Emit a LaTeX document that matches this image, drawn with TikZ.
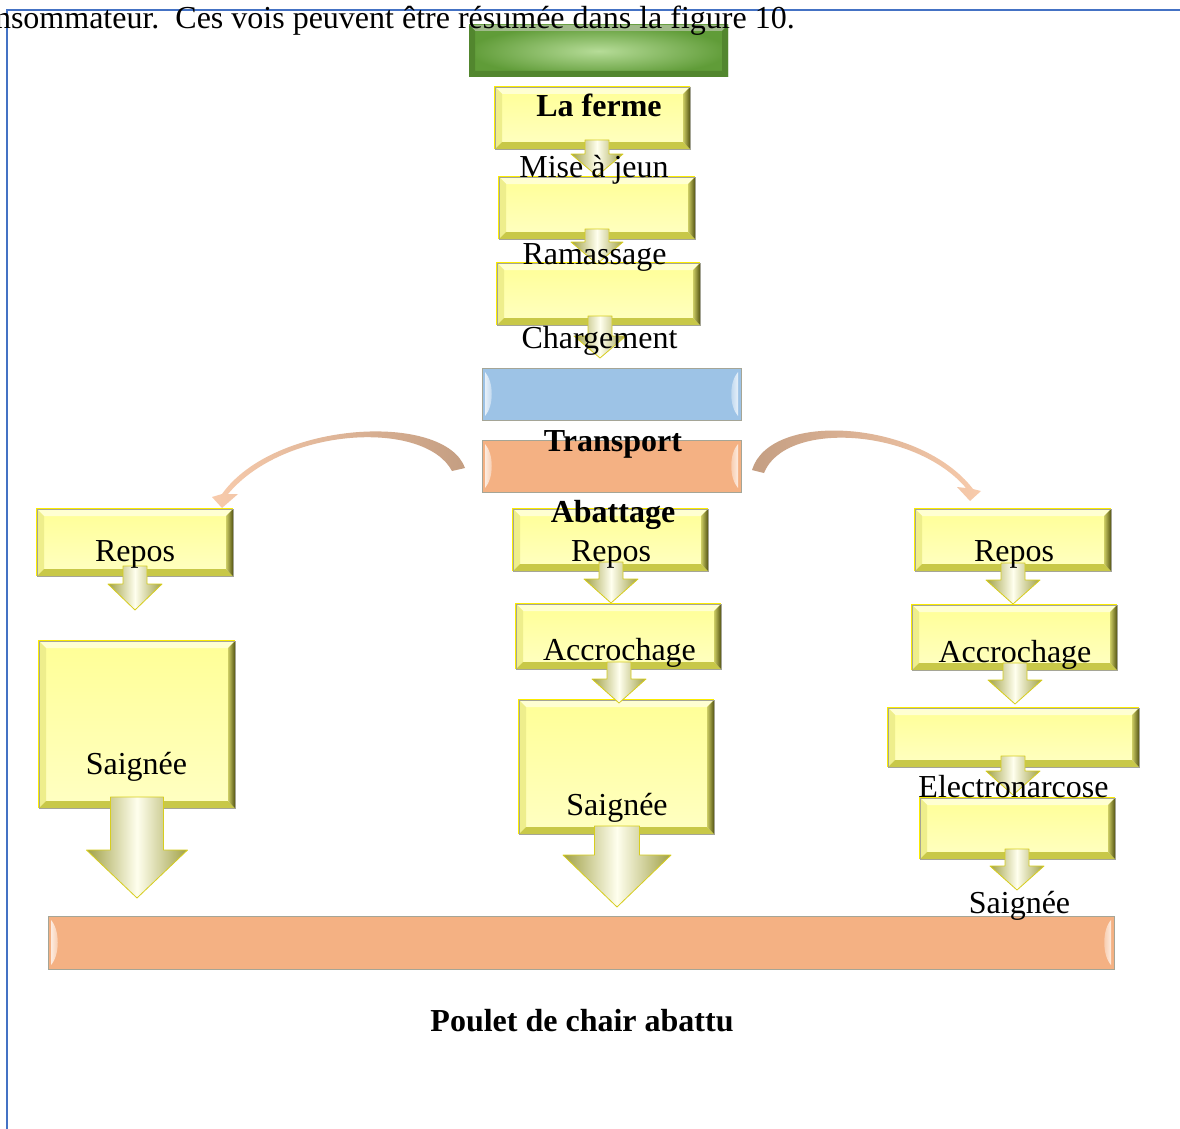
\documentclass[tikz,border=0pt]{standalone}
\usepackage{fontspec}
\setmainfont{Liberation Serif}
\usetikzlibrary{calc,fit}

\definecolor{frameblue}{RGB}{68,114,196}
\definecolor{yfillA}{RGB}{255,255,150}
\definecolor{yfillB}{RGB}{255,255,195}
\definecolor{ybtop}{RGB}{255,255,210}
\definecolor{ybleft}{RGB}{238,238,140}
\definecolor{ybbot}{RGB}{200,200,72}
\definecolor{ybrA}{RGB}{205,205,100}
\definecolor{ybrB}{RGB}{85,85,20}
\definecolor{yline}{RGB}{250,235,0}
\definecolor{boxgray}{RGB}{165,165,150}
\definecolor{peach}{RGB}{244,177,131}
\definecolor{skyblue}{RGB}{157,195,230}
\definecolor{leafA}{RGB}{182,220,152}
\definecolor{leafB}{RGB}{96,156,56}
\definecolor{leafC}{RGB}{82,134,46}
\definecolor{leafTop}{RGB}{160,186,138}
\definecolor{arrEdge}{RGB}{160,160,70}
\definecolor{arrMid}{RGB}{255,255,238}
\definecolor{arrLine}{RGB}{215,205,30}
\definecolor{curveTail}{RGB}{196,158,130}
\definecolor{curveHead}{RGB}{248,203,172}

\tikzset{
  lbl/.style={inner sep=0pt, anchor=base, font=\fontsize{32}{38}\selectfont},
  lblb/.style={lbl, font=\fontsize{32}{38}\selectfont\bfseries},
  area/.style={inner sep=0pt, outer sep=0pt}
}

% bevelled yellow box spanning (x1,y1)-(x2,y2)
\newcommand\ybox[5]{%
  \node[area, fit={(#2,#3) (#4,#5)}] (#1) {};
  \shade[top color=yfillA, bottom color=yfillB] (#1.north west) rectangle (#1.south east);
  \fill[ybtop] (#1.north west) -- (#1.north east) -- ($(#1.north east)+(-7,7)$) -- ($(#1.north west)+(7,7)$) -- cycle;
  \fill[ybleft] (#1.north west) -- ($(#1.north west)+(7,7)$) -- ($(#1.south west)+(7,-7)$) -- (#1.south west) -- cycle;
  \fill[ybbot] (#1.south west) -- ($(#1.south west)+(7,-7)$) -- ($(#1.south east)+(-7,-7)$) -- (#1.south east) -- cycle;
  \shade[left color=ybrA, right color=ybrB] (#1.north east) -- ($(#1.north east)+(-7,7)$) -- ($(#1.south east)+(-7,-7)$) -- (#1.south east) -- cycle;
  \draw[yline, line width=1.6pt] (#1.south west) -- (#1.north west) -- (#1.north east);
  \draw[boxgray, line width=0.6pt] (#1.north west) rectangle (#1.south east);
}

% flat glossy box with light side highlights
\newcommand\flatbox[6]{%
  \node[area, fit={(#3,#4) (#5,#6)}, fill=#2, draw=boxgray, line width=0.8pt] (#1) {};
  \shade[left color=#2!25!white, right color=#2!75!white]
    ($(#1.north west)+(3,4)$) .. controls ($(#1.north west)+(12,14)$) and ($(#1.south west)+(12,-14)$) .. ($(#1.south west)+(3,-4)$) -- cycle;
  \shade[right color=#2!25!white, left color=#2!75!white]
    ($(#1.north east)+(-3,4)$) .. controls ($(#1.north east)+(-12,14)$) and ($(#1.south east)+(-12,-14)$) .. ($(#1.south east)+(-3,-4)$) -- cycle;
}

% block arrow hanging below a box: node, dx, rise, length, half shaft, half head, head length
\newcommand\blockarrow[7]{%
  \begin{scope}[shift={($(#1.south)+(#2,-#3)$)}]
    \shadedraw[left color=arrEdge, right color=arrEdge, middle color=arrMid, draw=arrLine, line width=0.8pt, line join=round]
      (-#5,0) -- (#5,0) -- (#5,#4-#7) -- (#6,#4-#7) -- (0,#4) -- (-#6,#4-#7) -- (-#5,#4-#7) -- cycle;
  \end{scope}
}

\begin{document}
\begin{tikzpicture}[x=1pt, y=-1pt]
  \useasboundingbox (0,0) rectangle (1180,1129);
  \fill[white] (0,0) rectangle (1180,1129);

  % page frame
  \draw[frameblue, line width=2pt] (1181,10) -- (7,10) -- (7,1130);

  % farm header bar
  \node[area, fit={(469,25) (728,77)}] (farm) {};
  \shade[inner color=leafA, outer color=leafB] (farm.north west) rectangle (farm.south east);
  \fill[leafTop] (farm.north west) -- (farm.north east) -- ($(farm.north east)+(-6,6)$) -- ($(farm.north west)+(6,6)$) -- cycle;
  \fill[leafC] (farm.north west) -- ($(farm.north west)+(6,6)$) -- ($(farm.south west)+(6,-6)$) -- (farm.south west) -- cycle;
  \fill[leafC] (farm.north east) -- ($(farm.north east)+(-6,6)$) -- ($(farm.south east)+(-6,-6)$) -- (farm.south east) -- cycle;
  \fill[leafC] (farm.south west) -- ($(farm.south west)+(6,-6)$) -- ($(farm.south east)+(-6,-6)$) -- (farm.south east) -- cycle;

  % farm chain
  \ybox{ferme}{495}{87}{690}{149}
  \ybox{mise}{499}{177}{695}{239}
  \ybox{ramas}{497}{263}{700}{325}

  % transport and slaughter bars
  \flatbox{transp}{skyblue}{482}{368}{741}{420}
  \flatbox{abat}{peach}{482}{440}{741}{492}

  % left route
  \ybox{lrepos}{37}{509}{233}{576}
  \ybox{lsaig}{39}{641}{235}{808}

  % middle route
  \ybox{mrepos}{513}{509}{708}{571}
  \ybox{macc}{516}{604}{721}{669}
  \ybox{msaig}{519}{700}{714}{834}

  % right route
  \ybox{rrepos}{915}{509}{1111}{571}
  \ybox{racc}{912}{605}{1117}{670}
  \ybox{relec}{888}{708}{1139}{767}
  \ybox{rsaig}{920}{798}{1115}{859}

  % end product bar
  \flatbox{poulet}{peach}{48}{916}{1114}{969}

  % block arrows
  \blockarrow{ferme}{4.5}{9}{36}{12}{26}{22}
  \blockarrow{mise}{0}{10}{35}{12}{26}{22}
  \blockarrow{ramas}{1.5}{9}{42}{12}{26}{22}
  \blockarrow{mrepos}{0.5}{9}{41}{12}{27}{24}
  \blockarrow{macc}{0.5}{7}{41}{12}{27}{24}
  \blockarrow{msaig}{0.5}{8}{81}{22.5}{54}{52}
  \blockarrow{lrepos}{0}{10}{44}{12}{27}{26}
  \blockarrow{lsaig}{0}{11}{101}{26.5}{50.5}{48}
  \blockarrow{rrepos}{0}{8}{41}{12}{27}{24}
  \blockarrow{racc}{0.5}{7}{41}{12}{27}{24}
  \blockarrow{relec}{-0.5}{11}{39}{12}{27}{24}
  \blockarrow{rsaig}{-0.5}{10}{41}{12}{27}{24}

  % curved arrows towards the side routes
  \shade[left color=curveHead, right color=curveTail]
    (465,468) .. controls (445,412) and (275,420) .. (222,494)
    -- (212,497) -- (222,508) -- (238,494) -- (228,494)
    .. controls (285,426) and (425,420) .. (452,471) -- cycle;
  \shade[left color=curveTail, right color=curveHead]
    (752,470) .. controls (770,410) and (920,420) .. (973,489)
    -- (981,491) -- (970,501) -- (957,487) -- (966,488)
    .. controls (915,428) and (785,420) .. (764,473) -- cycle;

  % texts
  \node[lbl, anchor=base east] (intro) at (795,29) {nsommateur.\ \ Ces vois peuvent être résumée dans la figure 10.};
  \node[lblb] (tferme) at (599,116.5) {La ferme};
  \node[lbl] (tmise) at (594,177.5) {Mise à jeun};
  \node[lbl] (tram) at (594.5,264.5) {Ramassage};
  \node[lbl] (tcharg) at (599.5,348.5) {Chargement};
  \node[lblb] (ttrans) at (613,451.5) {Transport};
  \node[lblb] (tabat) at (613,522.5) {Abattage};
  \node[lbl] (tmrep) at (611,561.5) {Repos};
  \node[lbl] (tlrep) at (135,561.5) {Repos};
  \node[lbl] (trrep) at (1014,561.5) {Repos};
  \node[lbl] (tmacc) at (619.5,660.5) {Accrochage};
  \node[lbl] (tracc) at (1015,662.5) {Accrochage};
  \node[lbl] (tlsaig) at (136.5,774.5) {Saignée};
  \node[lbl] (tmsaig) at (617,815.5) {Saignée};
  \node[lbl] (telec) at (1013.5,797.5) {Electronarcose};
  \node[lbl] (trsaig) at (1019.5,913.5) {Saignée};
  \node[lblb] (tpoulet) at (582,1031.5) {Poulet de chair abattu};
\end{tikzpicture}
\end{document}
